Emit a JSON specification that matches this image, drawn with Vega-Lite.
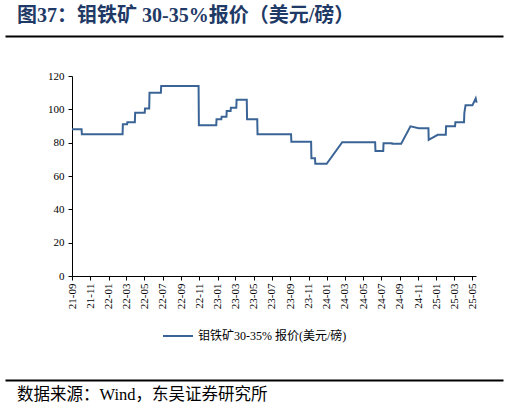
{
  "$schema": "https://vega.github.io/schema/vega-lite/v6.json",
  "padding": {"left": 5, "top": 5, "right": 5, "bottom": 0},
  "spacing": 31,
  "resolve": {"legend": {"color": "independent"}},
  "datasets": {
    "price": [
      {"date": "2021-09-01", "price": 88},
      {"date": "2021-10-03", "price": 88},
      {"date": "2021-10-04", "price": 85},
      {"date": "2022-02-17", "price": 85},
      {"date": "2022-02-18", "price": 91},
      {"date": "2022-03-04", "price": 91},
      {"date": "2022-03-05", "price": 92.3},
      {"date": "2022-03-30", "price": 92.3},
      {"date": "2022-03-31", "price": 98},
      {"date": "2022-05-02", "price": 98},
      {"date": "2022-05-03", "price": 100.5},
      {"date": "2022-05-17", "price": 100.5},
      {"date": "2022-05-18", "price": 110},
      {"date": "2022-06-25", "price": 110},
      {"date": "2022-06-26", "price": 114},
      {"date": "2022-10-29", "price": 114},
      {"date": "2022-10-30", "price": 90.5},
      {"date": "2022-12-27", "price": 90.5},
      {"date": "2022-12-28", "price": 94},
      {"date": "2023-01-13", "price": 94},
      {"date": "2023-01-14", "price": 95.5},
      {"date": "2023-01-30", "price": 95.5},
      {"date": "2023-01-31", "price": 99},
      {"date": "2023-02-13", "price": 99},
      {"date": "2023-02-14", "price": 101},
      {"date": "2023-03-04", "price": 101},
      {"date": "2023-03-05", "price": 105.8},
      {"date": "2023-04-08", "price": 105.8},
      {"date": "2023-04-09", "price": 94},
      {"date": "2023-05-13", "price": 94},
      {"date": "2023-05-14", "price": 85},
      {"date": "2023-09-03", "price": 85},
      {"date": "2023-09-04", "price": 80.5},
      {"date": "2023-11-09", "price": 80.5},
      {"date": "2023-11-10", "price": 70.7},
      {"date": "2023-11-22", "price": 70.7},
      {"date": "2023-11-23", "price": 67.3},
      {"date": "2023-12-31", "price": 67.3},
      {"date": "2024-02-21", "price": 80.3},
      {"date": "2024-06-10", "price": 80.3},
      {"date": "2024-06-11", "price": 75},
      {"date": "2024-07-07", "price": 75},
      {"date": "2024-07-08", "price": 79.7},
      {"date": "2024-08-05", "price": 79.7},
      {"date": "2024-08-06", "price": 79.3},
      {"date": "2024-09-05", "price": 79.3},
      {"date": "2024-10-06", "price": 89.8},
      {"date": "2024-11-03", "price": 88.7},
      {"date": "2024-12-05", "price": 88.7},
      {"date": "2024-12-06", "price": 81.7},
      {"date": "2025-01-05", "price": 84.7},
      {"date": "2025-02-01", "price": 84.7},
      {"date": "2025-02-02", "price": 89.8},
      {"date": "2025-03-04", "price": 89.8},
      {"date": "2025-03-05", "price": 92.2},
      {"date": "2025-04-03", "price": 92.2},
      {"date": "2025-04-04", "price": 97.8},
      {"date": "2025-04-08", "price": 102.4},
      {"date": "2025-05-01", "price": 102.4},
      {"date": "2025-05-12", "price": 106.6},
      {"date": "2025-05-15", "price": 104}
    ]
  },
  "vconcat": [
    {
      "width": 498,
      "height": 1,
      "title": {
        "text": "图37：钼铁矿 30-35%报价（美元/磅）",
        "anchor": "start",
        "dx": 12,
        "offset": 7,
        "font": "Liberation Serif, Noto Sans CJK SC",
        "fontSize": 20,
        "fontWeight": "bold",
        "color": "#1f3a66"
      },
      "data": {"values": [{"a": 0}]},
      "mark": {"type": "point", "opacity": 0},
      "encoding": {
        "x": {
          "field": "a",
          "type": "quantitative",
          "axis": {"title": null, "labels": false, "ticks": false, "grid": false, "domainColor": "black", "domainWidth": 2}
        }
      }
    },
    {
      "width": 471,
      "height": 200,
      "data": {"name": "price"},
      "transform": [{"calculate": "'钼铁矿30-35% 报价(美元/磅)'", "as": "series"}],
      "mark": {"type": "line", "strokeWidth": 2},
      "encoding": {
        "x": {
          "field": "date",
          "type": "temporal",
          "title": null,
          "scale": {
            "type": "utc",
            "range": [67, 471],
            "domain": [
              {"year": 2021, "month": 9, "date": 1, "utc": true},
              {"year": 2025, "month": 5, "date": 13, "utc": true}
            ]
          },
          "axis": {
            "format": "%y-%m",
            "tickCount": {"interval": "month", "step": 2},
            "labelAngle": 270,
            "labelAlign": "right",
            "labelBaseline": "middle",
            "labelPadding": 3,
            "labelFont": "Liberation Serif",
            "labelFontSize": 11,
            "labelColor": "black",
            "domainColor": "black",
            "tickColor": "black",
            "tickSize": 4,
            "grid": false,
            "labelOverlap": false,
            "labelFlush": false
          }
        },
        "y": {
          "field": "price",
          "type": "quantitative",
          "title": null,
          "scale": {"domain": [0, 120]},
          "axis": {
            "values": [0, 20, 40, 60, 80, 100, 120],
            "offset": -67,
            "labelFont": "Liberation Serif",
            "labelFontSize": 11,
            "labelColor": "black",
            "labelPadding": 4,
            "domainColor": "black",
            "tickColor": "black",
            "tickSize": 4,
            "grid": false
          }
        },
        "color": {
          "field": "series",
          "type": "nominal",
          "scale": {"range": ["#3b6496"]},
          "legend": {
            "orient": "none",
            "legendX": 153,
            "legendY": 240,
            "padding": 4,
            "title": null,
            "symbolType": "stroke",
            "symbolStrokeWidth": 2,
            "symbolSize": 900,
            "labelFont": "Liberation Serif, Noto Sans CJK SC",
            "labelFontSize": 12,
            "labelColor": "black",
            "labelOffset": 4
          }
        }
      }
    },
    {
      "width": 498,
      "height": 1,
      "title": {
        "text": "数据来源：Wind，东吴证券研究所",
        "orient": "bottom",
        "anchor": "start",
        "dx": 12,
        "offset": 4,
        "font": "Liberation Serif, Noto Sans CJK SC",
        "fontSize": 16.5,
        "fontWeight": "normal",
        "color": "black"
      },
      "data": {"values": [{"a": 0}]},
      "mark": {"type": "point", "opacity": 0},
      "encoding": {
        "x": {
          "field": "a",
          "type": "quantitative",
          "axis": {"orient": "top", "title": null, "labels": false, "ticks": false, "grid": false, "domainColor": "black", "domainWidth": 2}
        }
      }
    }
  ],
  "config": {
    "view": {"stroke": null},
    "background": "white"
  }
}
